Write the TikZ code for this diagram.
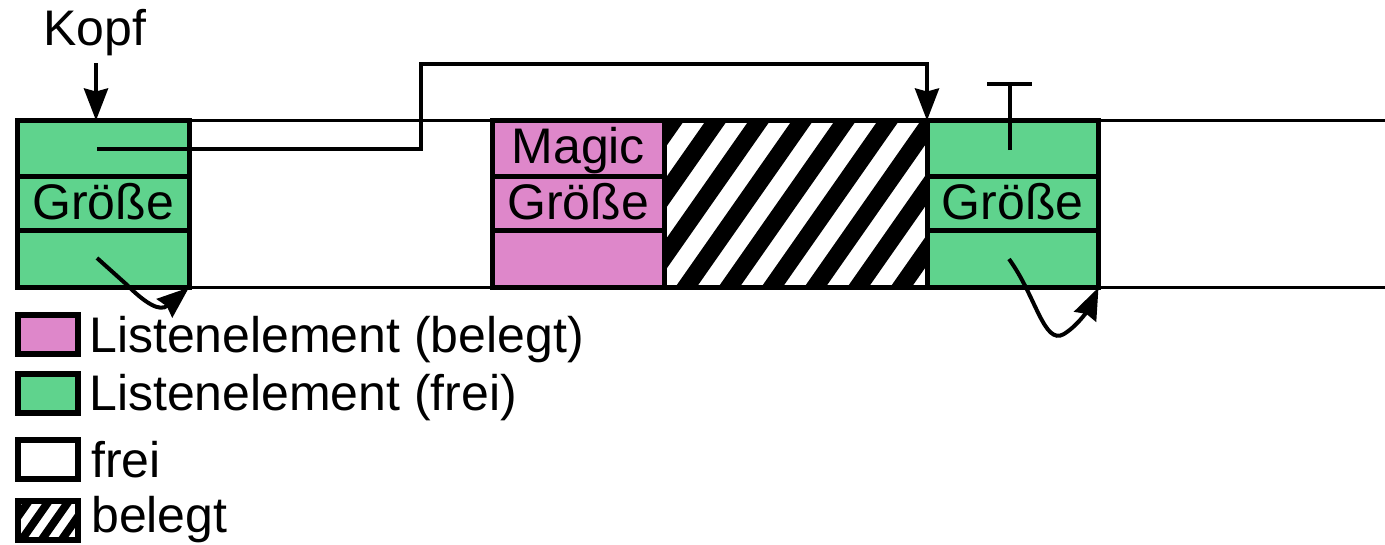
\documentclass[tikz,border=0pt]{standalone}
\usepackage{fontspec}
\setmainfont{Liberation Sans}
\usetikzlibrary{arrows.meta}
\definecolor{freigruen}{RGB}{95,211,141}
\definecolor{belegtrosa}{RGB}{222,135,202}
\begin{document}
\begin{tikzpicture}[x=1pt,y=-1pt,line join=miter,
  font=\fontsize{50}{58}\selectfont,
  >={Stealth[length=32pt,width=24pt,inset=3pt]},
  elem/.style={draw,line width=5pt,minimum width=171.5pt,minimum height=167pt,
    inner sep=0pt,outer sep=0pt,anchor=north west},
  mem/.style={line width=3pt},
  ptr/.style={line width=4pt,->},
  swatch/.style={draw,line width=6pt,minimum width=60pt,minimum height=39pt,
    inner sep=0pt,outer sep=0pt},
  legtext/.style={anchor=base west,inner sep=0pt}]
\useasboundingbox (0,0) rectangle (1385,544);
% Speicher
\draw[mem](188,120.5)--(1385,120.5);
\draw[mem](188,287.5)--(1385,287.5);
% belegter Bereich
\begin{scope}
\clip(664,120.5) rectangle (927,287.5);
\foreach \i in {0,...,11}
  \draw[line width=17.5pt](498+43*\i,310)--++(170,-243);
\end{scope}
\draw[line width=5pt](664,120.5) rectangle (927,287.5);
% Listenelemente
\node[elem,fill=freigruen] (f1) at (17.5,120.5) {};
\node[elem,fill=belegtrosa] (b1) at (492.5,120.5) {};
\node[elem,fill=freigruen] (f2) at (927,120.5) {};
\foreach \e in {f1,b1,f2}{
  \draw[line width=5pt](\e.west|-0,176)--(\e.east|-0,176);
  \draw[line width=5pt](\e.west|-0,230)--(\e.east|-0,230);
  \node[anchor=base,inner sep=0pt] (\e size) at (\e.center|-0,219) {Größe};
}
\node[anchor=base,inner sep=0pt] (b1magic) at (b1.center|-0,163) {Magic};
% Kopf
\node[anchor=base,inner sep=0pt] (kopf) at (95,45) {Kopf};
\draw[ptr]([xshift=1pt,yshift=-18pt]kopf.base)--([xshift=1pt]kopf.base|-f1.north);
% Zeiger
\coordinate (f1next) at (97,149);
\coordinate (f2next) at (1009.5,150);
\draw[ptr](f1next)--(421,149)--(421,63.5)--(f2.north west|-0,63.5)--(f2.north west);
\draw[line width=4pt](987,84)--(1032,84);
\draw[line width=4pt](f2next)--(1009.5,84);
% Groessenverweise
\coordinate (f1size) at (97,258);
\coordinate (f2size) at (1009,259);
\draw[ptr](f1size)--(126,284) .. controls (146,304) and (160,312) .. (f1.south east);
\draw[ptr](f2size) .. controls (1036,296) and (1044,346) .. (1064,334)
  .. controls (1080,324) and (1090,306) .. (f2.south east);
% Legende
\node[swatch,fill=belegtrosa] (lb) at (47.5,334) {};
\node[legtext] at (89,352) {Listenelement (belegt)};
\node[swatch,fill=freigruen] (lf) at (47.5,393.5) {};
\node[legtext] at (89,410) {Listenelement (frei)};
\node[swatch,fill=white] (fr) at (47.5,459.5) {};
\node[legtext] at (91,477) {frei};
\begin{scope}
\clip(17.5,501) rectangle (77.5,540);
\foreach \i in {0,...,5}
  \draw[line width=8pt](-2+20*\i,545)--++(40,-57);
\end{scope}
\node[swatch] (bl) at (47.5,520.5) {};
\node[legtext] at (91,532) {belegt};
\end{tikzpicture}
\end{document}
